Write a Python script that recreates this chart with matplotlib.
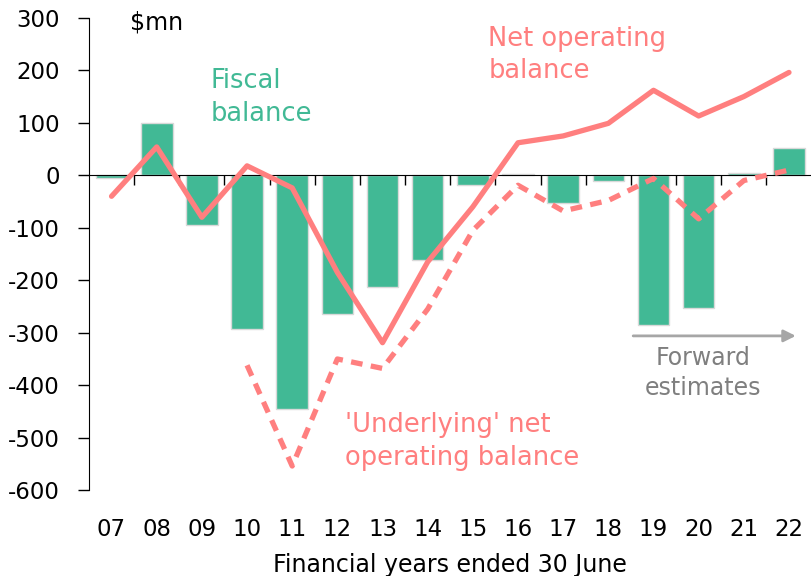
import numpy as np
import matplotlib
matplotlib.use("Agg")
from matplotlib import pyplot as plt

plt.rcParams["font.family"] = ["DejaVu Sans"]
plt.rcParams["axes.unicode_minus"] = False

years = ["07", "08", "09", "10", "11", "12", "13", "14",
         "15", "16", "17", "18", "19", "20", "21", "22"]
fiscal = [-5, 100, -95, -292, -446, -264, -213, -161,
          -19, 3, -53, -11, -285, -253, 5, 52]
net_op = [-40, 54, -80, 18, -24, -185, -319, -165,
          -60, 62, 75, 99, 162, 113, 150, 196]
# underlying series starts in 2010
underlying = [-362, -554, -350, -368, -255, -105, -19, -68,
              -48, -6, -83, -10, 10]

green = "#41b995"
red = "#ff7f7f"
grey = "#a6a6a6"

fig = plt.figure(figsize=(8.11, 5.76), dpi=100)
ax = fig.add_axes([0.1097, 0.149, 0.891, 0.82])

x = np.arange(len(years))
xu = np.arange(len(years) - len(underlying), len(years))

ax.bar(x, fiscal, width=0.7, color=green, edgecolor="#d9d9d9", linewidth=1, zorder=1)
ax.plot(x, net_op, color=red, lw=3.8, solid_capstyle="round", zorder=3)
ax.plot(xu, underlying, color=red, lw=3.8, ls=(0, (2.2, 1.6)), zorder=3)

ax.set_xlim(-0.5, 15.5)
ax.set_ylim(-600, 300)
ax.set_yticks(range(-600, 301, 100))
ax.tick_params(axis="y", labelsize=16.5, length=8, pad=13, width=1)

# category labels along the bottom, no tick marks
ax.set_xticks(x)
ax.set_xticklabels(years)
ax.tick_params(axis="x", which="major", bottom=True, length=0, labelsize=16.5, pad=20)

# zero line with ticks between categories (top spine moved to y=0)
ax.spines["top"].set_position(("data", 0))
ax.spines["top"].set_zorder(2.5)
ax.spines["right"].set_visible(False)
ax.spines["bottom"].set_visible(False)
ax.set_xticks(x[:-1] + 0.5, minor=True)
ax.tick_params(axis="x", which="minor", top=True, bottom=False, direction="in",
               length=7, width=1)

ax.set_xlabel("Financial years ended 30 June", fontsize=17, labelpad=9)

ax.text(0.4, 292, "$mn", fontsize=17, va="center", ha="left")
ax.text(2.19, 148, "Fiscal\nbalance", color=green, fontsize=18.5, va="center",
        ha="left", linespacing=1.32)
ax.text(8.34, 229, "Net operating\nbalance", color=red, fontsize=18.5,
        va="center", ha="left", linespacing=1.32)
ax.text(5.18, -507, "'Underlying' net\noperating balance", color=red,
        fontsize=18.5, va="center", ha="left", linespacing=1.32)
ax.text(13.1, -377, "Forward\nestimates", color="#7f7f7f", fontsize=17,
        va="center", ha="center", linespacing=1.3)
ax.annotate("", xy=(15.15, -306), xytext=(11.55, -306),
            arrowprops=dict(arrowstyle="-|>", color=grey, lw=2,
                            mutation_scale=18, shrinkA=0, shrinkB=0))

fig.savefig("out.png", dpi=100)
